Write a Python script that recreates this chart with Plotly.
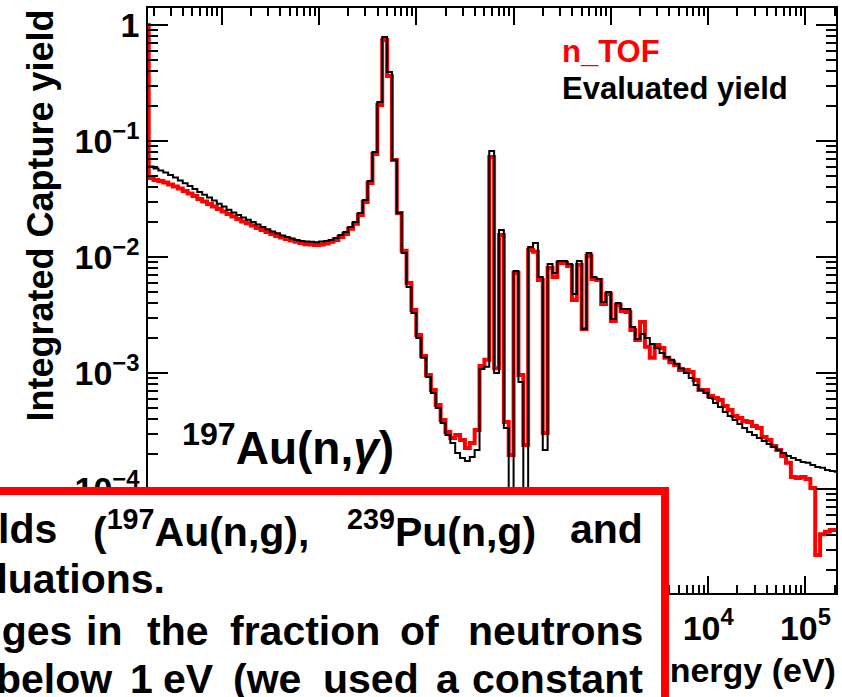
import numpy as np
import plotly.graph_objects as go

# ---------------- data ----------------
BINS_PER_DECADE = 20
eval_first_bin = -35      # first bin starts at 10^(-35/20) eV
ntof_first_bin = -36

evaluated_yield = [
    0.0603, 0.0579, 0.0557, 0.0535, 0.0509, 0.0485, 0.0456, 0.0432, 0.0409, 0.0385,
    0.0363, 0.0344, 0.0325, 0.0307, 0.0288, 0.0272, 0.0256, 0.0242, 0.0230, 0.0219,
    0.0209, 0.0200, 0.0191, 0.0181, 0.0173, 0.0166, 0.0160, 0.0153, 0.0149, 0.0144,
    0.0140, 0.0137, 0.0136, 0.0135, 0.0134,
    0.0136, 0.0137, 0.0140, 0.0146, 0.0155, 0.0164, 0.0181, 0.0200, 0.0239, 0.0310,
    0.0452, 0.0804, 0.217, 0.788, 0.394, 0.0686, 0.0239, 0.0108, 0.00551, 0.00329,
    0.00200, 0.00135, 0.000924, 0.000673, 0.000499, 0.000371, 0.000292, 0.000249, 0.000204, 0.000185,
    0.000174, 0.000189, 0.000217, 0.00108, 0.00113, 0.0820, 0.00100, 0.0171, 0.000336, 0.00005,
    0.00757, 0.000836, 0.00003, 0.0122, 0.0132, 0.00673, 0.000217, 0.00871, 0.00728, 0.00924,
    0.00924, 0.00871, 0.00480, 0.00924, 0.00239, 0.0108, 0.00673, 0.00646, 0.00409, 0.00499,
    0.00292, 0.00401, 0.00356, 0.00356, 0.00249, 0.00196, 0.00217, 0.00200, 0.00178, 0.00164,
    0.00149, 0.00137, 0.00130, 0.00120, 0.00110, 0.00100, 0.000906, 0.000788, 0.000713, 0.000673,
    0.000609, 0.000551, 0.000509, 0.000461, 0.000426, 0.000393, 0.000363, 0.000336, 0.000310, 0.000292,
    0.000275, 0.000259, 0.000244, 0.000230, 0.000217, 0.000204, 0.000192, 0.000185, 0.000178, 0.000171,
    0.000168, 0.000161, 0.000155, 0.000152, 0.000146, 0.000143, 0.000141,
]

ntof_yield = [
    1.0,
    0.0480, 0.0461, 0.0452, 0.0439, 0.0422, 0.0405, 0.0390, 0.0371, 0.0353, 0.0336,
    0.0316, 0.0301, 0.0286, 0.0272, 0.0259, 0.0247, 0.0235, 0.0223, 0.0213, 0.0202,
    0.0195, 0.0187, 0.0178, 0.0171, 0.0164, 0.0158, 0.0152, 0.0147, 0.0143, 0.0139,
    0.0135, 0.0132, 0.0129, 0.0128, 0.0127,
    0.0128, 0.0131, 0.0135, 0.0140, 0.0149, 0.0158, 0.0175, 0.0193, 0.0230, 0.0298,
    0.0435, 0.0773, 0.204, 0.743, 0.363, 0.0686, 0.0239, 0.0113, 0.00597, 0.00349,
    0.00213, 0.00140, 0.000961, 0.000713, 0.000530, 0.000393, 0.000310, 0.000275, 0.000292, 0.000264,
    0.000226, 0.000249, 0.000323, 0.00115, 0.00130, 0.0728, 0.00110, 0.0155, 0.000378, 0.000196,
    0.00728, 0.000961, 0.000239, 0.0115, 0.0111, 0.00634, 0.000304, 0.00804, 0.00673, 0.00888,
    0.00888, 0.00836, 0.00426, 0.00853, 0.00239, 0.0102, 0.00646, 0.00634, 0.00393, 0.00480,
    0.00281, 0.00385, 0.00342, 0.00335, 0.00235, 0.00192, 0.00275, 0.00168, 0.00135, 0.00174,
    0.00164, 0.00135, 0.00124, 0.00117, 0.00106, 0.00106, 0.00102, 0.000871, 0.000713, 0.000713,
    0.000634, 0.000609, 0.000585, 0.000520, 0.000480, 0.000426, 0.000409, 0.000386, 0.000378, 0.000349,
    0.000336, 0.000281, 0.000264, 0.000235, 0.000217, 0.000192, 0.000168, 0.000127, 0.000124, 0.000127,
    0.000122, 0.000102, 0.0000270, 0.0000406, 0.0000427, 0.0000443, 0.0000443,
]

x_tick_vals = [0.1, 1, 10, 100, 1000, 1e4, 1e5]
x_tick_text = ["10<sup>\u22121</sup>", "1", "10", "10<sup>2</sup>", "10<sup>3</sup>",
               "10<sup>4</sup>", "10<sup>5</sup>"]
y_tick_vals = [1e-4, 1e-3, 1e-2, 1e-1, 1]
y_tick_text = ["10<sup>\u22124</sup>", "10<sup>\u22123</sup>", "10<sup>\u22122</sup>",
               "10<sup>\u22121</sup>", "1"]

x_range_log = [-1.757, 5.3135]
y_range_log = [-4.897, 0.1466]

# ---------------- helpers ----------------
def step_xy(first_bin, values):
    n = len(values)
    edges = 10 ** (np.arange(first_bin, first_bin + n + 1) / BINS_PER_DECADE)
    return edges, list(values) + [values[-1]]

W, H = 842, 697
L, R, T, B = 148, 6, 8, 104
PW, PH = W - L - R, H - T - B

def px(xp):
    return (xp - L) / PW

def py(yp):
    return (H - B - yp) / PH

FONT = "Liberation Sans, Arial, Helvetica, sans-serif"

fig = go.Figure()
xr, yr = step_xy(ntof_first_bin, ntof_yield)
fig.add_trace(go.Scatter(x=xr, y=yr, mode="lines", line=dict(color="#ff0000", width=4, shape="hv"),
                         name="n_TOF", showlegend=False))
xb, yb = step_xy(eval_first_bin, evaluated_yield)
fig.add_trace(go.Scatter(x=xb, y=yb, mode="lines", line=dict(color="black", width=2, shape="hv"),
                         name="Evaluated yield", showlegend=False))

axis_common = dict(type="log", showgrid=False, zeroline=False, showline=True, linecolor="black",
                   linewidth=1.5, mirror="ticks", ticks="inside", tickcolor="black", tickwidth=1.5,
                   automargin=False,
                   tickfont=dict(family=FONT, size=34, color="black", weight="bold"))

fig.update_xaxes(**axis_common, range=x_range_log, tickmode="array", tickvals=x_tick_vals,
                 ticktext=x_tick_text, ticklen=17, ticklabelstandoff=4,
                 minor=dict(ticks="inside", ticklen=8, tickwidth=1.5, tickcolor="black", dtick="D1",
                            showgrid=False))
fig.update_yaxes(**axis_common, range=y_range_log, tickmode="array", tickvals=y_tick_vals,
                 ticktext=y_tick_text, ticklen=20, ticklabelstandoff=0,
                 minor=dict(ticks="inside", ticklen=10, tickwidth=1.5, tickcolor="black", dtick="D1",
                            showgrid=False))

ann = []
def text(s, xp, yp, size, color="black", xanchor="left", yanchor="middle", angle=0):
    ann.append(dict(text=s, x=px(xp), y=py(yp), xref="paper", yref="paper", showarrow=False,
                    xanchor=xanchor, yanchor=yanchor, textangle=angle, borderpad=0, borderwidth=0,
                    font=dict(family=FONT, size=size, color=color, weight="bold")))

text("Integrated Capture yield", 40.5, 216, 36, xanchor="center", angle=-90)
text("Neutron energy (eV)", 836, 670, 34, xanchor="right")
text("<sup>197</sup>Au(n,<i>\u03b3</i>)", 182, 445, 46)
text("n_TOF", 562, 52, 31, color="#ff0000")
text("Evaluated yield", 562, 89, 31)

# slide text box overlapping the chart
ann.append(dict(text="&nbsp;", x=px(-30), y=py(487), xref="paper", yref="paper", showarrow=False,
                xanchor="left", yanchor="top", width=683, height=227, bgcolor="white",
                bordercolor="#ff0000", borderwidth=8, borderpad=0))

BF = 41
text("yields", 57, 529, BF, xanchor="right")
text("(<sup>197</sup>Au(n,g),", 93, 529, BF)
text("<sup>239</sup>Pu(n,g)", 347, 529, BF)
text("and", 643, 529, BF, xanchor="right")
text("evaluations.", 165, 579, BF, xanchor="right")
text("changes", 72, 631, BF, xanchor="right")
text("in", 86, 631, BF)
text("the", 147, 631, BF)
text("fraction", 230, 631, BF)
text("of", 400, 631, BF)
text("neutrons", 643, 631, BF, xanchor="right")
text("below", 112, 679, BF, xanchor="right")
text("1", 130, 679, BF)
text("eV", 163, 679, BF)
text("(we", 233, 679, BF)
text("used", 323, 679, BF)
text("a", 436, 679, BF)
text("constant", 643, 679, BF, xanchor="right")

fig.update_layout(width=W, height=H, margin=dict(l=L, r=R, t=T, b=B), paper_bgcolor="white",
                  plot_bgcolor="white", showlegend=False, annotations=ann)

fig.write_html("out.html")
